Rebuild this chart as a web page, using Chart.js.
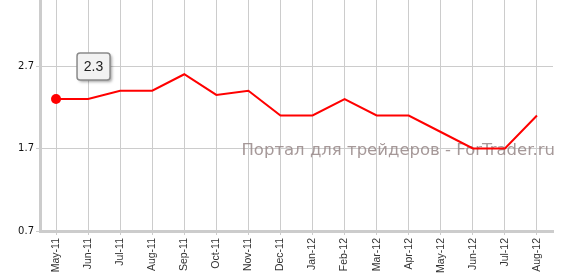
<!DOCTYPE html>
<html>
<head>
<meta charset="utf-8">
<script src="https://cdn.jsdelivr.net/npm/chart.js@4/dist/chart.umd.min.js"></script>
<style>
  html, body { margin: 0; padding: 0; background: #fff; overflow: hidden; }
  #wrap { width: 561px; height: 283px; margin-top: -5px; }
</style>
</head>
<body>
<div id="wrap"><canvas id="rate_chart"></canvas></div>
<script>
const labels = ['May-11', 'Jun-11', 'Jul-11', 'Aug-11', 'Sep-11', 'Oct-11', 'Nov-11', 'Dec-11',
    'Jan-12', 'Feb-12', 'Mar-12', 'Apr-12', 'May-12', 'Jun-12', 'Jul-12', 'Aug-12'];
const values = [2.3, 2.3, 2.4, 2.4, 2.6, 2.35, 2.4, 2.1, 2.1, 2.3, 2.1, 2.1, 1.9, 1.7, 1.7, 2.1];
const yTicks = [0.7, 1.7, 2.7];
const yMin = 0.7;
const yMax = 3.5;
const watermark = 'Портал для трейдеров - ForTrader.ru';

const gridColor = '#cccccc';

// watermark text behind the line
const watermarkPlugin = {
    id: 'watermark',
    beforeDatasetsDraw(chart) {
        const ctx = chart.ctx;
        ctx.save();
        ctx.font = '16.5px "DejaVu Sans"';
        ctx.fillStyle = 'rgba(150,135,135,0.85)';
        ctx.textAlign = 'right';
        ctx.textBaseline = 'alphabetic';
        ctx.fillText(watermark, 555, 160);
        ctx.restore();
    }
};

// value box next to the first point
const labelBoxPlugin = {
    id: 'labelBox',
    afterDatasetsDraw(chart) {
        const ctx = chart.ctx;
        const pt = chart.getDatasetMeta(0).data[0];
        const x = pt.x + 21, y = pt.y - 46, w = 33, h = 27;
        ctx.save();
        ctx.shadowColor = 'rgba(0,0,0,0.35)';
        ctx.shadowOffsetX = 2;
        ctx.shadowOffsetY = 2;
        ctx.shadowBlur = 3;
        ctx.beginPath();
        ctx.roundRect(x, y, w, h, 3);
        ctx.fillStyle = '#f2f2f2';
        ctx.fill();
        ctx.shadowColor = 'transparent';
        ctx.lineWidth = 1.5;
        ctx.strokeStyle = '#8a8a8a';
        ctx.stroke();
        ctx.fillStyle = '#222';
        ctx.font = '14px "Liberation Sans"';
        ctx.textAlign = 'center';
        ctx.textBaseline = 'middle';
        ctx.fillText(values[0].toFixed(1), x + w / 2, y + h / 2 + 1);
        ctx.restore();
    }
};

function Line_Chart() {
    new Chart(document.getElementById('rate_chart'), {
        type: 'line',
        data: {
            labels: labels,
            datasets: [{
                data: values,
                borderColor: '#ff0000',
                borderWidth: 2,
                tension: 0,
                pointRadius: values.map((v, i) => i === 0 ? 5 : 0),
                pointBackgroundColor: '#ff0000',
                pointBorderWidth: 0
            }]
        },
        options: {
            responsive: true,
            maintainAspectRatio: false,
            animation: false,
            events: [],
            layout: { padding: { top: 0, right: 8, left: 0, bottom: 0 } },
            plugins: {
                legend: { display: false },
                tooltip: { enabled: false }
            },
            scales: {
                x: {
                    offset: true,
                    grid: { color: gridColor, offset: false, tickLength: 4 },
                    border: { color: gridColor, width: 3 },
                    ticks: {
                        minRotation: 90,
                        maxRotation: 90,
                        autoSkip: false,
                        color: '#333',
                        padding: 3,
                        font: { family: 'Liberation Sans', size: 10.5 }
                    },
                    afterFit(scale) {
                        scale.height = 47;
                        scale.paddingLeft = 0;
                        scale.paddingRight = 0;
                    }
                },
                y: {
                    min: yMin,
                    max: yMax,
                    grid: { color: gridColor, tickLength: 4 },
                    border: { color: gridColor, width: 3 },
                    ticks: {
                        color: '#111',
                        padding: 2,
                        font: { family: 'DejaVu Sans', size: 10 },
                        callback: v => v.toFixed(1)
                    },
                    afterBuildTicks(scale) {
                        scale.ticks = yTicks.map(v => ({ value: v }));
                    },
                    afterFit(scale) {
                        scale.width = 40;
                        scale.paddingTop = 0;
                        scale.paddingBottom = 0;
                    }
                }
            }
        },
        plugins: [watermarkPlugin, labelBoxPlugin]
    });
}
Line_Chart()
</script>
</body>
</html>
